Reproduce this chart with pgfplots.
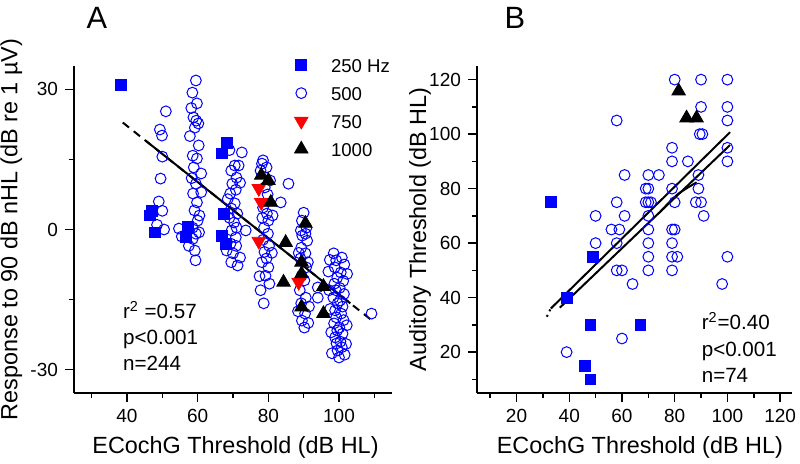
\documentclass[border=0pt]{standalone}
\usepackage{fontspec}
\setmainfont{Liberation Sans}
\usepackage{pgfplots}
\pgfplotsset{compat=1.18}
\pgfplotsset{
  myax/.style={
    scale only axis,
    axis x line=bottom, axis y line=left,
    axis line style={-, line width=0.75pt},
    tick align=outside,
    major tick length=4.5pt, minor tick length=2.5pt,
    every tick/.style={black, line width=0.75pt},
    tick label style={font=\fontsize{9.5}{11}\selectfont},
    label style={font=\fontsize{11.7}{13}\selectfont},
    /pgf/number format/assume math mode=true,
    clip=false,
  },
  circ/.style={only marks, color=blue, mark=o, mark size=2.7pt, mark options={draw=blue, line width=0.5pt}},
  sq/.style={only marks, color=blue, mark=square*, mark size=2.7pt, mark options={draw=blue, fill=blue}},
  tdown/.style={only marks, color=red, mark=triangle*, mark size=3.9pt, mark options={draw=red, fill=red, rotate=180}},
  tup/.style={only marks, color=black, mark=triangle*, mark size=3.9pt, mark options={draw=black, fill=black}},
}
\begin{document}
\begin{tikzpicture}
\useasboundingbox (0,0) rectangle (400pt,231.5pt);
% ---------------- Panel A ----------------
\begin{axis}[myax, at={(37pt,35pt)}, anchor=south west,
  width=159pt, height=163.5pt,
  xmin=25, xmax=115, ymin=-35, ymax=35,
  xtick={40,60,80,100}, minor xtick={30,50,70,90,110},
  ytick={-30,0,30}, minor ytick={-15,15},
  xlabel={ECochG Threshold (dB HL)},
  ylabel={Response to 90 dB nHL (dB re 1 µV)},
  xlabel style={at={(axis description cs:0.508,-0.165)}, anchor=center},
  ylabel style={at={(axis description cs:-0.197,0.5)}, anchor=center},
  legend style={at={(axis cs:87.3,37.2)}, anchor=north west, draw=none, fill=none,
    font=\fontsize{9.3}{10}\selectfont, inner sep=0pt, row sep=5pt,
    nodes={inner sep=1pt, text height=7pt, text depth=0pt},
    /tikz/every odd column/.append style={column sep=10.5pt}},
  legend cell align=left,
]
\addlegendimage{sq}\addlegendentry{250 Hz}
\addlegendimage{circ}\addlegendentry{500}
\addlegendimage{tdown}\addlegendentry{750}
\addlegendimage{tup}\addlegendentry{1000}
% 500 Hz circles
\addplot[circ, forget plot] coordinates {
(51,25.3) (49.3,21.4) (49.9,20.1) (50,15.6) (49.5,10.9) (49,6) (50,4) (48.5,1) (50.5,0)
(54.7,0.2) (55.5,-1.5)
(59.5,31.9) (58.5,29.3) (59.8,27) (58.8,24) (59.6,23.3) (60.2,22.7) (59.2,21.8) (58.6,15.8)
(59.8,15.2) (58.9,13.3) (59.5,9.8) (58.7,7.7) (59.8,5.8) (59.1,4.1) (60,1.9) (58.6,0.4)
(59.5,-0.9) (60.4,-0.6) (58.6,-2) (59.2,-4.5) (59.4,-6.6) (60.5,3) (58.3,11) (60.3,18) (58.2,26)
(61,12) (57.8,20) (61,8) (57.5,-3.5)
(69,17) (70.5,13.7) (69.5,12.6) (71,11.1) (69.8,9.8) (70.8,8.5) (69.2,7.7) (70.5,5.6) (69.5,4.5)
(71.2,3.4) (69,2.5) (70.3,1.5) (71,0.4) (69.6,-0.2) (70.8,-1.7) (69.3,-3) (70.9,-3.5) (70,-5.1)
(69.5,-7) (71.3,-7.7) (73.6,-0.2) (71.6,13.7) (68.5,6.5) (72,10)
(72.5,16.5) (68.2,-4.5) (72,-6)
(78.5,14.8) (78.2,14.1) (79.5,13.3) (77.8,12.6) (80.5,10.5) (79,9) (79.8,7.5) (78.5,4.7) (79.6,3.4)
(78.3,2.5) (80,1.9) (78.8,0.4) (79.9,-0.9) (78.5,-2.2) (80.2,-3.5) (78.9,-4.8) (79.5,-6.2) (78.2,-7)
(80,-8.1) (79.2,-9.9) (80.3,-11.6) (78.7,-15.8) (77.8,-13) (85.7,9.8) (83.5,5.8)
(81,-5) (77.5,-10) (81.2,3)
(90,3.6) (89.5,1.9) (90.8,0.4) (89.2,-0.2) (90.5,-0.9) (89.6,-1.3) (91,-2.4) (89.3,-3.9) (90.5,-5.1)
(89.1,-6.2) (90.7,-8.1) (89.4,-9.9) (90.2,-10.9) (88.9,-13) (90.6,-14.6) (89.3,-15.8) (90.4,-18)
(89.5,-19.5) (90.2,-21) (94,-12.4) (94,-14.6) (91.2,-7) (88.6,-5)
(91.5,-16.5) (88.4,-17.5) (91.3,-20)
(98.5,-5.1) (100.8,-6) (99.2,-6.6) (101.5,-7.5) (98.8,-8.1) (100.5,-9.2) (99.5,-10.3) (101.2,-11)
(98.7,-11.6) (100.2,-12.5) (99.1,-13) (101.4,-13.8) (98.4,-14.6) (100.3,-15.2) (99.6,-15.8)
(101,-16.5) (98.9,-17.3) (100.6,-18) (99.2,-18.8) (101.3,-19.4) (98.6,-20.1) (100.1,-21)
(99.5,-21.6) (101,-22.3) (98.9,-23.1) (100.4,-24) (99.3,-24.4) (100.8,-25.2) (99.6,-25.9)
(100,-27.4) (97,-9) (97.2,-13)
(97.5,-17) (102.2,-20.5) (97.8,-22) (102,-24.5) (98,-26.5) (101.6,-26.8) (102.3,-9.5) (97.4,-6.5)
(109.2,-18)
};
% 250 Hz squares
\addplot[sq, forget plot] coordinates {
(38.3,31) (47,3.9) (46.5,3.0) (48,-0.6) (68.2,18.6) (66.8,16.3) (67.4,3.4)
(57.2,0.6) (56.6,-1.7) (66.8,-1.3) (68,-3.0)
};
% regression
\addplot[black, line width=1pt, dash pattern=on 4pt off 3pt, forget plot] coordinates {(38.8,22.9) (109.2,-19.4)};
\addplot[black, line width=1pt, forget plot] coordinates {(45.3,19) (103.2,-15.8)};
% 750 Hz
\addplot[tdown, forget plot] coordinates {
(77.3,8.8) (78,5.8) (77.3,-2.5) (88.6,-11.3)
};
% 1000 Hz
\addplot[tup, forget plot] coordinates {
(78,11.6) (80,10.5) (80.7,5.8) (90.5,1.3) (84.9,-2.8) (89.4,-7.0) (89.4,-9.5)
(84.3,-11.3) (95.6,-12.2) (89.4,-16.6) (95.6,-18.0)
};
\node[anchor=base west, font=\fontsize{10.3}{12}\selectfont] at (axis cs:36.9,-19.1) {r\textsuperscript{2} =0.57};
\node[anchor=base west, font=\fontsize{10.3}{12}\selectfont] at (axis cs:36.9,-24.7) {p<0.001};
\node[anchor=base west, font=\fontsize{10.3}{12}\selectfont] at (axis cs:36.9,-30.2) {n=244};
\end{axis}
% ---------------- Panel B ----------------
\begin{axis}[myax, at={(238.5pt,35pt)}, anchor=south west,
  width=157.5pt, height=163.5pt,
  xmin=5, xmax=124.5, ymin=5, ymax=125,
  xtick={20,40,60,80,100,120}, minor xtick={10,30,50,70,90,110},
  ytick={20,40,60,80,100,120}, minor ytick={10,30,50,70,90,110},
  xlabel={ECochG Threshold (dB HL)},
  ylabel={Auditory Threshold (dB HL)},
  xlabel style={at={(axis description cs:0.517,-0.165)}, anchor=center},
  ylabel style={at={(axis description cs:-0.181,0.5)}, anchor=center},
]
\addplot[sq] coordinates {
(33,75) (39,40) (49,55) (48,30) (67,30) (46,15) (48,10)
};
\addplot[circ] coordinates {
(80,120) (90,120) (100,120)
(90,110) (100,110)
(58,105) (100,105)
(89.5,100) (90.5,100)
(79,95) (100,95)
(79,90) (85,90) (100,90)
(61,85) (70,85) (74,85) (89,85)
(69,80) (70,80) (79,80) (89,80)
(58,75) (69,75) (70,75) (71,75) (80,75) (88,75) (90,75)
(50,70) (61,70) (70,70) (91,70)
(56,65) (59,65) (70,65) (79,65) (80,65)
(50,60) (58,60) (70,60) (79,60)
(49,55) (70,55) (79,55) (81,55) (100,55)
(58,50) (60,50) (70,50) (79,50)
(64,45) (98,45)
(60,25) (39,20)
};
\addplot[black, line width=1pt, dash pattern=on 1pt off 2pt] coordinates {(31.5,33) (33,36)};
\addplot[black, line width=1pt] coordinates {(33,36) (101,100.7)};
\addplot[black, line width=1pt] coordinates {(36.4,36.3) (101,96)};
\addplot[black, line width=1pt, smooth] coordinates {(74,71) (81,77.8) (88.3,82.3)};
\addplot[tup] coordinates {
(81.5,115.8) (84.5,105.9) (88.3,105.9)
};
\node[anchor=base west, font=\fontsize{10.3}{12}\selectfont] at (axis cs:87.6,28.3) {r\textsuperscript{2}=0.40};
\node[anchor=base west, font=\fontsize{10.3}{12}\selectfont] at (axis cs:87.6,18.4) {p<0.001};
\node[anchor=base west, font=\fontsize{10.3}{12}\selectfont] at (axis cs:87.6,8.8) {n=74};
\end{axis}
\node[font=\fontsize{15.4}{17}\selectfont] at (48.5pt,222.5pt) {A};
\node[font=\fontsize{15.4}{17}\selectfont] at (257.5pt,222.5pt) {B};
\end{tikzpicture}
\end{document}
